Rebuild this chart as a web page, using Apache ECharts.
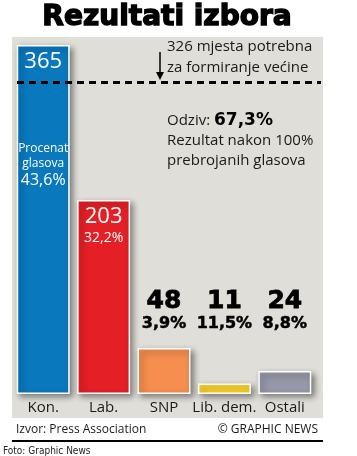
<!DOCTYPE html>
<html><head><meta charset="utf-8">
<script src="https://cdn.jsdelivr.net/npm/echarts@6/dist/echarts.min.js"></script>
<style>html,body{margin:0;padding:0;background:#fff}#c{width:357px;height:456px}</style>
</head><body><div id="c"></div>
<script>
const categories = ['Kon.', 'Lab.', 'SNP', 'Lib. dem.', 'Ostali'];
const seats = [365, 203, 48, 11, 24];
const voteShare = ['43,6%', '32,2%', '3,9%', '11,5%', '8,8%'];
const colors = ['#0a78bd', '#e41f26', '#f58e4e', '#fdd22b', '#9698a9'];
const majority = 326;
const seatMax = 365;
const labelLevel = 86;

const chart = echarts.init(document.getElementById('c'), null, {renderer: 'canvas'});
const font = "'Open Sans', 'Noto Sans', sans-serif";
const heavy = "'DejaVu Sans', Lato, sans-serif";

const option = {
  animation: false,
  backgroundColor: '#fff',
  grid: {left: 13, right: 42, top: 45, bottom: 62},
  xAxis: {
    type: 'category', data: categories,
    axisLine: {show: false}, axisTick: {show: false},
    axisLabel: {color: '#1a1a1a', fontFamily: font, fontSize: 15, margin: 6, interval: 0}
  },
  yAxis: {type: 'value', min: 0, max: seatMax, show: false, splitLine: {show: false}},
  graphic: [
    {type: 'rect', z: -10, shape: {x: 12, y: 37, width: 311, height: 381}, style: {fill: '#dfded8'}},
    {type: 'text', style: {text: 'Rezultati izbora', x: 167, y: 18, align: 'center', verticalAlign: 'middle',
      font: "bold 28px " + heavy, fill: '#000', stroke: '#000', lineWidth: 1.4}},
    {type: 'text', style: {text: '326 mjesta potrebna', x: 167, y: 47, verticalAlign: 'middle', font: '15px ' + font, fill: '#1a1a1a'}},
    {type: 'text', style: {text: 'za formiranje većine', x: 167, y: 68, verticalAlign: 'middle', font: '15px ' + font, fill: '#1a1a1a'}},
    {type: 'line', shape: {x1: 160, y1: 52, x2: 160, y2: 74}, style: {stroke: '#000', lineWidth: 1.5}},
    {type: 'polygon', shape: {points: [[156, 72], [164, 72], [160, 80]]}, style: {fill: '#000'}},
    {type: 'text', style: {x: 167, y: 121, verticalAlign: 'middle',
      text: '{a|Odziv: }{b|67,3%}',
      rich: {a: {fontSize: 15, fontFamily: font, fill: '#1a1a1a'}, b: {fontSize: 17, fontWeight: 'bold', fontFamily: heavy, fill: '#000'}}}},
    {type: 'text', style: {text: 'Rezultat nakon 100%', x: 167, y: 141, verticalAlign: 'middle', font: '15px ' + font, fill: '#1a1a1a'}},
    {type: 'text', style: {text: 'prebrojanih glasova', x: 167, y: 161, verticalAlign: 'middle', font: '15px ' + font, fill: '#1a1a1a'}},
    {type: 'text', style: {text: 'Izvor: Press Association', x: 16, y: 430, verticalAlign: 'middle', font: '12px ' + font, fill: '#1a1a1a'}},
    {type: 'text', style: {text: '© GRAPHIC NEWS', x: 318, y: 430, align: 'right', verticalAlign: 'middle', font: '12px ' + font, fill: '#1a1a1a'}},
    {type: 'rect', shape: {x: 12, y: 440, width: 311, height: 2}, style: {fill: '#000'}},
    {type: 'text', style: {text: 'Foto: Graphic News', x: 3, y: 451, verticalAlign: 'middle', font: "10px 'Liberation Sans Narrow', 'DejaVu Sans Condensed', sans-serif", fill: '#222'}}
  ],
  series: [
    {
      type: 'bar', z: 3, barWidth: 53,
      data: seats.map((v, i) => ({
        value: v,
        itemStyle: {color: colors[i]},
        label: i === 0 ? {
          show: true, position: 'insideTop', distance: 5,
          formatter: '{n|' + v + '}\n{g| }\n{s|Procenat}\n{s|glasova}\n{p|' + voteShare[i] + '}',
          rich: {n: {fontSize: 22, color: '#fff', fontFamily: font, lineHeight: 24},
                 g: {fontSize: 10, lineHeight: 67},
                 s: {fontSize: 12, color: '#fff', fontFamily: font, lineHeight: 15},
                 p: {fontSize: 16, color: '#fff', fontFamily: font, lineHeight: 18}}
        } : i === 1 ? {
          show: true, position: 'insideTop', distance: 5,
          formatter: '{n|' + v + '}\n{p|' + voteShare[i] + '}',
          rich: {n: {fontSize: 22, color: '#fff', fontFamily: font, lineHeight: 24},
                 p: {fontSize: 14, color: '#fff', fontFamily: font, lineHeight: 18}}
        } : {show: false}
      })),
      itemStyle: {borderColor: '#fff', borderWidth: 1.5, shadowBlur: 6, shadowOffsetX: 3, shadowOffsetY: 3, shadowColor: 'rgba(0,0,0,0.45)'}
    },
    {
      type: 'scatter', z: 4, symbolSize: 0, silent: true,
      itemStyle: {opacity: 1},
      data: seats.map((v, i) => i >= 2 ? {value: [categories[i], labelLevel], name: voteShare[i], seats: v} : null).filter(Boolean),
      label: {
        show: true, position: 'inside', color: '#000', opacity: 1,
        formatter: p => '{n|' + p.data.seats + '}\n{p|' + p.data.name + '}',
        rich: {n: {fontSize: 25, fontWeight: 'bold', fontFamily: heavy, color: '#000', lineHeight: 24, textBorderColor: '#000', textBorderWidth: 0.8},
               p: {fontSize: 16, fontWeight: 'bold', fontFamily: heavy, color: '#000', lineHeight: 20, textBorderColor: '#000', textBorderWidth: 0.5}}
      }
    },
    {
      type: 'line', z: 1, data: [], silent: true,
      markLine: {
        symbol: 'none', silent: true, label: {show: false},
        lineStyle: {color: '#000', type: [7, 5], width: 3},
        data: []
      }
    }
  ]
};
option.series[2].markLine.data = [[{yAxis: majority, x: 17}, {yAxis: majority, x: 321}]];
chart.setOption(option);
</script>
</body></html>
